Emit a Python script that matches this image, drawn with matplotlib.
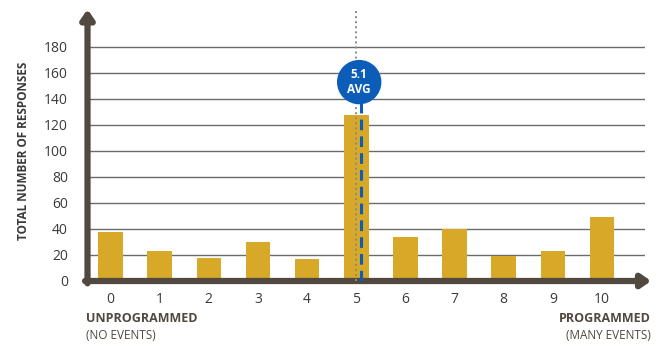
import matplotlib.pyplot as plt
from matplotlib.patches import Ellipse

# --- data ---
scores = [0, 1, 2, 3, 4, 5, 6, 7, 8, 9, 10]
responses = [38, 23, 18, 30, 17, 128, 34, 40, 19, 23, 49]
avg_score = 5.1
y_ticks = [0, 20, 40, 60, 80, 100, 120, 140, 160, 180]

bar_color = '#D8A928'
axis_color = '#51483F'
text_color = '#3A3A3A'
blue = '#0C5DB8'

plt.rcParams['font.family'] = ['Open Sans', 'DejaVu Sans']

fig = plt.figure(figsize=(6.67, 3.46), dpi=100)
ax = fig.add_axes([87.5 / 667, 1 - 281 / 346, (645 - 87.5) / 667, 260 / 346])

x0, x1 = -0.468, 10.875
ax.set_xlim(x0, x1)
ax.set_ylim(0, 200)

# grid lines behind the bars
for y in y_ticks[1:]:
    ax.axhline(y, color='#6B6B6B', lw=1.0, zorder=1)

ax.bar(scores, responses, width=0.5, color=bar_color, zorder=2)

# axes with arrow heads
for s in ax.spines.values():
    s.set_visible(False)
ax.annotate('', xy=(x0, 209), xytext=(x0, -1.8), annotation_clip=False,
            arrowprops=dict(arrowstyle='-|>,head_length=0.55,head_width=0.38', lw=4.5,
                            color=axis_color, shrinkA=0, shrinkB=0))
ax.annotate('', xy=(11.0, 0), xytext=(x0 - 0.05, 0), annotation_clip=False,
            arrowprops=dict(arrowstyle='-|>,head_length=0.55,head_width=0.38', lw=4.5,
                            color=axis_color, shrinkA=0, shrinkB=0))

# average markers
ax.plot([5, 5], [0, 210], color='#8A8A8A', lw=1.4, ls=(0, (1, 1.6)), zorder=3, clip_on=False)
ax.plot([avg_score, avg_score], [0, 137], color=blue, lw=2.2, ls=(0, (3.5, 2)), zorder=4)
px_x = (x1 - x0) / 557.5
px_y = 200 / 260
ax.add_patch(Ellipse((5.06, 153), 43 * px_x, 43 * px_y, color=blue, zorder=5, clip_on=False))
ax.text(5.06, 153, f'{avg_score}\nAVG', color='white', fontsize=8.5, fontweight='bold',
        ha='center', va='center', linespacing=1.15, zorder=6)

ax.set_xticks(scores)
ax.set_xticklabels([str(s) for s in scores])
ax.set_yticks(y_ticks)
ax.tick_params(length=0, labelsize=10, colors=text_color)
ax.tick_params(axis='x', pad=8)
ax.tick_params(axis='y', pad=14)

ax.set_ylabel('TOTAL NUMBER OF RESPONSES', fontsize=8.5, fontweight='bold', color=text_color,
              labelpad=10)

fig.text(86 / 667, 1 - 318.5 / 346, 'UNPROGRAMMED', fontsize=9, fontweight='bold',
         color=axis_color, ha='left', va='center')
fig.text(86 / 667, 1 - 335.5 / 346, '(NO EVENTS)', fontsize=8.5, color=axis_color,
         ha='left', va='center')
fig.text(651 / 667, 1 - 318.5 / 346, 'PROGRAMMED', fontsize=9, fontweight='bold',
         color=axis_color, ha='right', va='center')
fig.text(651 / 667, 1 - 335.5 / 346, '(MANY EVENTS)', fontsize=8.5, color=axis_color,
         ha='right', va='center')

fig.savefig('out.png', dpi=100)
